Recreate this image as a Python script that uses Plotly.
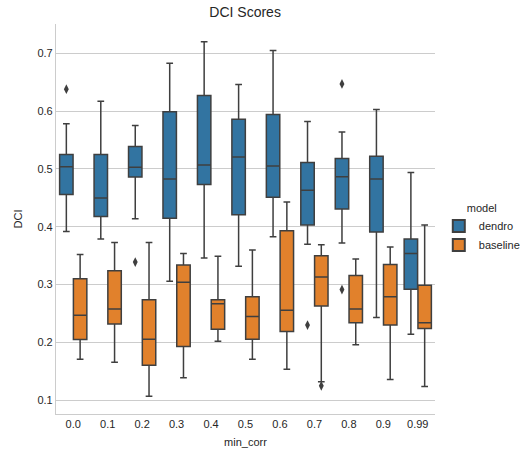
import plotly.graph_objects as go

categories = ["0.0", "0.1", "0.2", "0.3", "0.4", "0.5", "0.6", "0.7", "0.8", "0.9", "0.99"]
models = ["dendro", "baseline"]

# dendro box statistics
dendro_low = [0.392, 0.379, 0.414, 0.306, 0.346, 0.332, 0.383, 0.370, 0.372, 0.243, 0.214]
dendro_q1 = [0.456, 0.418, 0.486, 0.415, 0.473, 0.421, 0.451, 0.403, 0.431, 0.391, 0.292]
dendro_median = [0.504, 0.450, 0.503, 0.4825, 0.507, 0.5205, 0.505, 0.463, 0.4865, 0.4825, 0.354]
dendro_q3 = [0.525, 0.525, 0.539, 0.599, 0.627, 0.586, 0.594, 0.511, 0.518, 0.522, 0.379]
dendro_high = [0.578, 0.617, 0.575, 0.683, 0.720, 0.646, 0.705, 0.582, 0.564, 0.603, 0.494]
dendro_out_cat = ["0.0", "0.2", "0.7", "0.8", "0.8"]
dendro_out_val = [0.638, 0.339, 0.230, 0.647, 0.2915]

# baseline box statistics
baseline_low = [0.171, 0.166, 0.107, 0.139, 0.202, 0.171, 0.1535, 0.132, 0.196, 0.136, 0.124]
baseline_q1 = [0.205, 0.232, 0.1605, 0.193, 0.223, 0.2055, 0.219, 0.263, 0.234, 0.230, 0.224]
baseline_median = [0.247, 0.258, 0.2055, 0.304, 0.267, 0.245, 0.2557, 0.313, 0.258, 0.279, 0.234]
baseline_q3 = [0.310, 0.324, 0.274, 0.334, 0.274, 0.279, 0.393, 0.350, 0.316, 0.335, 0.299]
baseline_high = [0.352, 0.373, 0.373, 0.354, 0.349, 0.360, 0.443, 0.369, 0.3445, 0.365, 0.403]
baseline_out_cat = ["0.7"]
baseline_out_val = [0.125]

y_ticks = [0.1, 0.2, 0.3, 0.4, 0.5, 0.6, 0.7]

colors = {"dendro": "#3274a1", "baseline": "#e1812c"}
dodge = {"dendro": -0.2, "baseline": 0.2}
edge = "#3f3f3f"
font = "Liberation Sans, Arial, sans-serif"

stats = {
    "dendro": (dendro_low, dendro_q1, dendro_median, dendro_q3, dendro_high, dendro_out_cat, dendro_out_val),
    "baseline": (baseline_low, baseline_q1, baseline_median, baseline_q3, baseline_high, baseline_out_cat, baseline_out_val),
}

fig = go.Figure()
for m in models:
    lo, q1, med, q3, hi, oc, ov = stats[m]
    xs = [i + dodge[m] for i in range(len(categories))]
    fig.add_trace(go.Box(
        name=m, x=xs, q1=q1, median=med, q3=q3, lowerfence=lo, upperfence=hi,
        width=0.39, fillcolor=colors[m], line=dict(color=edge, width=1.5),
        whiskerwidth=0.5, boxpoints=False, showlegend=True,
    ))
    fig.add_trace(go.Scatter(
        x=[categories.index(c) + dodge[m] for c in oc], y=ov, mode="markers",
        marker=dict(symbol="diamond-tall", size=7, color=edge), showlegend=False,
        hoverinfo="skip",
    ))

fig.update_layout(
    width=530, height=453,
    margin=dict(l=56, r=95, t=24, b=39, autoexpand=False),
    paper_bgcolor="white", plot_bgcolor="white",
    boxmode="overlay",
    font=dict(family=font, size=11, color="#262626"),
    title=dict(text="DCI Scores", x=0.4625, xanchor="center", y=0.9735, yanchor="middle",
               font=dict(size=14, color="#262626")),
    legend=dict(title=dict(text="model", font=dict(size=11), side="top center"), x=1.01, xanchor="left",
                y=0.475, yanchor="middle", font=dict(size=11), bgcolor="rgba(0,0,0,0)",
                traceorder="normal", itemsizing="constant", tracegroupgap=0),
    xaxis=dict(range=[-0.5, 10.5], tickmode="array", tickvals=list(range(len(categories))),
               ticktext=categories, showgrid=False, zeroline=False, showline=True,
               linecolor="#cccccc", linewidth=1.2, ticks="", automargin=False,
               title=dict(text="min_corr", standoff=9, font=dict(size=11))),
    yaxis=dict(range=[0.0763, 0.7507], tickmode="array", tickvals=y_ticks,
               ticktext=[f"{v:.1f}" for v in y_ticks], showgrid=True, gridcolor="#cccccc",
               gridwidth=1, zeroline=False, showline=True, linecolor="#cccccc", linewidth=1.2,
               ticks="", automargin=False,
               title=dict(text="DCI", standoff=12, font=dict(size=11))),
)

fig.write_html("out.html", config={"displayModeBar": False},
               post_script="document.body.style.margin='0';document.body.style.overflow='hidden';")
